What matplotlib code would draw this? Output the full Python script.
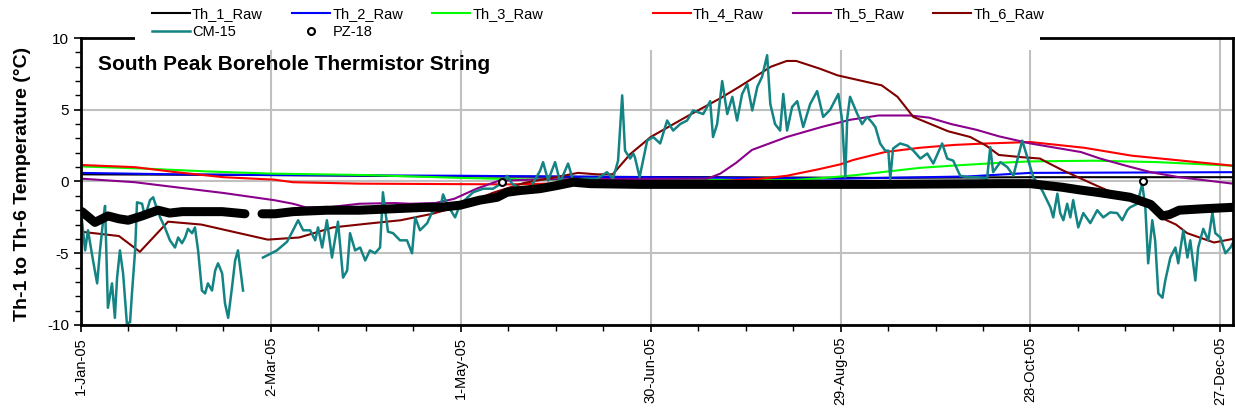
import matplotlib
matplotlib.use("Agg")
import matplotlib.pyplot as plt
import numpy as np
from matplotlib.patches import Rectangle

plt.rcParams['font.family'] = ['Liberation Sans', 'DejaVu Sans']
plt.rcParams['axes.unicode_minus'] = False

# days since 1-Jan-05
tick_days = [0, 60, 120, 180, 240, 300, 360]
tick_labels = ['1-Jan-05', '2-Mar-05', '1-May-05', '30-Jun-05', '29-Aug-05', '28-Oct-05', '27-Dec-05']

th1_day = [0, 60, 120, 200, 250, 300, 364]
th1_temp = [0.5, 0.45, 0.35, 0.3, 0.25, 0.3, 0.3]

th2_day = [0, 30, 60, 120, 180, 240, 280, 300, 364]
th2_temp = [0.6, 0.5, 0.45, 0.4, 0.3, 0.2, 0.35, 0.6, 0.65]

th3_day = [0, 20, 40, 60, 90, 120, 140, 180, 225, 235, 245, 255, 265, 275, 290, 300, 320, 340, 364]
th3_temp = [1.05, 0.9, 0.7, 0.55, 0.45, 0.25, 0.15, 0.1, 0.1, 0.25, 0.45, 0.7, 0.95, 1.1, 1.3, 1.4, 1.45, 1.35, 1.1]

th4_day = [0, 17, 30, 45, 61, 67, 88, 135, 160, 200, 215, 223, 233, 240, 244, 254, 265, 276, 286, 300, 317, 332, 348, 364]
th4_temp = [1.15, 1.0, 0.65, 0.3, 0.13, -0.05, -0.15, -0.2, -0.1, 0.0, 0.2, 0.4, 0.85, 1.2, 1.5, 2.05, 2.35, 2.55, 2.65, 2.75, 2.35, 1.8, 1.45, 1.1]

th5_day = [0, 17, 30, 45, 61, 67, 71, 78, 88, 99, 104, 112, 118, 125, 132, 145, 198, 202, 207, 212, 223,
           234, 243, 252, 262, 268, 275, 283, 290, 300, 316, 322, 331, 338, 347, 364]
th5_temp = [0.2, -0.05, -0.4, -0.8, -1.3, -1.55, -1.8, -1.8, -1.55, -1.5, -1.55, -1.5, -1.2, -0.5, 0.05, 0.15, 0.2, 0.55, 1.3, 2.2, 3.1,
            3.8, 4.3, 4.6, 4.6, 4.45, 4.0, 3.6, 3.15, 2.65, 2.05, 1.6, 1.05, 0.65, 0.3, -0.15]

th6_day = [0, 12, 18.6, 27.5, 38, 48, 59, 69, 79.6, 90, 101, 111, 120, 130, 140, 150, 157, 163, 168, 173.5, 180,
           192, 202, 208, 218, 223, 226, 233.6, 239, 253, 258, 263, 274, 281, 286, 290, 297, 303, 306, 310,
           315, 321, 331.5, 337, 342, 346, 349.5, 358, 364]
th6_temp = [-3.5, -3.8, -4.9, -2.8, -3.0, -3.5, -4.05, -3.9, -3.2, -2.95, -2.7, -2.25, -1.7, -0.8, -0.1, 0.3, 0.6, 0.5, 0.5, 1.9, 3.1,
            4.6, 5.8, 6.6, 8.0, 8.4, 8.4, 7.85, 7.4, 6.7, 5.9, 4.5, 3.5, 3.1, 2.5, 1.85, 1.7, 1.6, 1.25, 0.8,
            0.3, -0.3, -1.3, -1.7, -2.6, -3.0, -3.6, -4.25, -4.0]

cm15_day = [0.3, 1.3, 2.2, 3.8, 5.1, 6.0, 7.0, 7.6, 8.5, 9.8, 10.7, 11.4, 12.3, 13.3, 14.5, 15.5, 16.1, 17.1, 17.7,
            19.3, 20.2, 21.8, 22.8, 24.0, 25.0, 26.5, 28.1, 29.7, 30.7, 31.9, 32.9, 33.8, 35.1, 36.0, 37.0, 38.2,
            39.2, 40.1, 41.4, 42.4, 43.3, 44.6, 45.5, 46.5, 47.7, 48.7, 49.6, 50.9, 51.2, 54.0,
            57.5, 61.9, 65.1, 67.0, 68.6, 70.2, 72.4, 74.0, 74.9, 76.2, 77.7, 79.3, 81.2, 82.8, 84.1, 85.0, 86.6,
            88.2, 89.8, 91.3, 92.9, 94.5, 95.4, 97.0, 98.6, 100.8, 103.0, 104.6, 105.6, 107.1, 109.4, 111.2, 113.5,
            114.4, 115.7, 118.2, 119.8, 123.9, 127.1, 130.2, 133.4, 134.6, 136.2, 138.7, 141.9, 145.1, 146.0, 147.6,
            149.8, 151.4, 153.9, 155.5, 158.7, 163.1, 166.2, 168.1, 169.7, 171.0, 171.9, 173.5, 174.5, 175.0, 176.5,
            178.9, 180.8, 183.0, 185.2, 187.1, 189.3, 191.5, 193.4, 196.6, 198.8, 199.7, 201.0, 202.6, 204.2, 205.8,
            207.3, 208.9, 210.5, 212.1, 213.7, 215.2, 216.8, 217.8, 219.3, 220.9, 221.9, 223.1, 224.7, 226.3, 228.2,
            230.4, 232.6, 234.5, 236.7, 239.3, 240.5, 241.5, 242.1, 243.0, 245.3, 246.8, 248.4, 250.0, 251.0, 252.5,
            254.1, 255.1, 255.7, 256.6, 258.8, 261.1, 263.0, 265.2, 267.4, 269.3, 272.1, 273.7, 275.6, 277.8, 280.0,
            283.2, 286.3, 287.3, 288.2, 290.5, 292.7, 294.6, 297.4, 299.0, 300.9, 303.1, 304.0, 306.3, 307.2, 308.5,
            309.4, 310.4, 311.6, 312.6, 313.5, 315.1, 316.7, 318.9, 321.1, 323.0, 325.2, 327.4, 329.0, 330.6, 331.5,
            333.8, 335.3, 336.3, 337.2, 338.5, 339.4, 340.4, 341.7, 342.6, 344.2, 345.8, 346.7, 348.3, 349.6, 350.5,
            352.1, 353.0, 354.6, 356.2, 357.5, 358.4, 360.0, 361.6, 363.2, 364.4]
cm15_temp = [-2.7, -4.8, -3.4, -5.5, -7.1, -4.8, -2.7, -1.7, -8.8, -7.1, -9.5, -6.7, -4.8, -6.4, -9.9, -9.8, -7.8, -4.8, -1.45,
             -1.55, -2.5, -1.3, -1.1, -1.9, -2.5, -3.2, -4.1, -4.6, -3.9, -4.3, -3.9, -3.3, -3.6, -3.2, -4.8, -7.6,
             -7.8, -7.1, -7.6, -6.2, -5.7, -6.4, -8.5, -9.5, -7.4, -5.5, -4.8, -7.1, -7.6, np.nan,
             -5.3, -4.8, -4.2, -3.4, -2.7, -3.4, -3.4, -4.1, -3.2, -4.6, -2.7, -5.3, -2.8, -6.7, -6.2, -3.6, -4.8,
             -4.6, -5.5, -4.8, -5.0, -4.6, -0.75, -3.5, -3.6, -4.1, -4.1, -5.0, -2.5, -3.4, -2.9, -2.0, -1.9,
             -0.9, -1.6, -2.5, -1.6, -0.75, -0.5, -0.5, -0.05, 0.4, -0.15, -0.5, -0.5, 0.77, 1.35, 0.07,
             1.35, -0.05, 1.25, 0.07, 0.2, 0.2, 0.65, 0.2, 1.45, 6.0, 2.15, 1.6, 1.95, 1.7, 0.3,
             2.85, 3.1, 2.65, 4.25, 3.55, 4.0, 4.25, 4.95, 4.7, 5.6, 3.1, 4.0, 7.0, 4.7, 5.9,
             4.25, 6.1, 6.8, 4.95, 6.6, 7.3, 8.8, 5.4, 4.0, 3.55, 6.1, 3.55, 5.2, 5.6, 3.8,
             5.4, 6.3, 4.5, 5.0, 6.1, 4.25, 0.3, 4.4, 5.9, 4.7, 4.0, 4.5, 4.1, 3.8, 2.65,
             2.15, 2.15, 0.2, 2.3, 2.65, 2.5, 2.15, 1.6, 1.95, 1.25, 2.65, 1.6, 1.45, 0.4, 0.3,
             0.3, 0.2, 2.4, 0.65, 1.35, 1.0, 0.4, 2.85, 1.7, 0.3, -0.4, -0.75, -1.8, -2.5, -0.85,
             -2.2, -2.7, -1.55, -2.5, -1.3, -3.2, -2.2, -2.9, -2.0, -2.5, -2.15, -2.2, -2.7, -2.0, -1.8,
             -1.55, -0.15, -1.8, -5.7, -2.7, -4.1, -7.8, -8.1, -6.9, -5.3, -4.6, -5.7, -3.4, -5.3, -4.1,
             -6.9, -4.6, -3.3, -4.1, -2.15, -3.6, -3.9, -5.0, -4.6, -4.1]

pz18_day = [0.3, 4.4, 8.5, 12.0, 14.9, 19.3, 24.3, 28.0, 32.0, 38.0, 44.6, 51.8, 54.5, 57.2, 61.3, 67.0, 77.7, 88.0,
            98.6, 109.0, 113.5, 119.8, 126.0, 131.5, 134.6, 138.7, 145.0, 150.4, 155.5, 161.0, 176.7, 200.0,
            250.0, 290.0, 300.0, 310.0, 316.0, 321.0, 331.5, 338.0, 341.7, 344.0, 347.0, 354.6, 364.0]
pz18_temp = [-2.1, -2.85, -2.4, -2.6, -2.7, -2.4, -2.0, -2.2, -2.1, -2.1, -2.1, -2.25, np.nan, -2.25, -2.25, -2.1, -2.0, -2.0,
             -1.9, -1.8, -1.8, -1.65, -1.3, -1.1, -0.75, -0.63, -0.5, -0.28, -0.05, -0.15, -0.2, -0.2,
             -0.2, -0.15, -0.15, -0.4, -0.6, -0.75, -1.1, -1.6, -2.4, -2.3, -2.0, -1.9, -1.8]

# single open-circle readings standing apart from the band
pz18_out_day = [133.0, 335.7]
pz18_out_temp = [-0.05, 0.0]

fig = plt.figure(figsize=(12.35, 4.15), dpi=100)
ax = fig.add_axes([81 / 1235, 1 - 325 / 415, 1152 / 1235, 287 / 415])

th1, = ax.plot(th1_day, th1_temp, color='black', lw=1.5, label='Th_1_Raw')
th2, = ax.plot(th2_day, th2_temp, color='#0000ff', lw=1.5, label='Th_2_Raw')
th3, = ax.plot(th3_day, th3_temp, color='#00ff00', lw=1.5, label='Th_3_Raw')
th4, = ax.plot(th4_day, th4_temp, color='#ff0000', lw=1.5, label='Th_4_Raw')
th5, = ax.plot(th5_day, th5_temp, color='#8b008b', lw=1.5, label='Th_5_Raw')
th6, = ax.plot(th6_day, th6_temp, color='#800000', lw=1.5, label='Th_6_Raw')
cm, = ax.plot(cm15_day, cm15_temp, color='#138383', lw=1.8, label='CM-15')
ax.plot(pz18_day, pz18_temp, color='black', lw=6.5, solid_capstyle='round', label='_nolegend_')
pz, = ax.plot(pz18_out_day, pz18_out_temp, 'o', ms=5, mfc='white', mec='black', mew=1.5, label='PZ-18')

ax.set_xlim(0, 364)
ax.set_ylim(-10, 10)
ax.set_xticks(tick_days)
ax.set_xticklabels(tick_labels, rotation=90, fontsize=10.5)
ax.set_xticks(np.arange(0, 365, 15), minor=True)
ax.set_yticks([-10, -5, 0, 5, 10])
ax.set_yticks(np.arange(-10, 11, 1), minor=True)
ax.tick_params(axis='y', labelsize=11)
ax.tick_params(which='major', direction='out', length=5, width=1.2)
ax.tick_params(which='minor', direction='out', length=4, width=1)
ax.grid(True, which='major', color='#c0c0c0', lw=1.5)
ax.set_axisbelow(True)
for s in ax.spines.values():
    s.set_linewidth(2)

ax.set_ylabel('Th-1 to Th-6 Temperature (°C)', fontsize=14, fontweight='bold')
ax.yaxis.set_label_coords(-0.043, 0.49)
ax.text(0.015, 0.909, 'South Peak Borehole Thermistor String', transform=ax.transAxes,
        fontsize=15, fontweight='bold', va='center', ha='left')

# white legend box over the top edge, like the original
fig.patches.append(Rectangle((135 / 1235, 1 - 50 / 415), 905 / 1235, 50 / 415,
                             transform=fig.transFigure, facecolor='white', edgecolor='none', zorder=1))

leg_kw = dict(frameon=False, fontsize=10.5, handlelength=2.6, handletextpad=0.15,
              columnspacing=2.0, labelspacing=0.3, borderpad=0, borderaxespad=0)
fig.legend([th1, cm, th2, pz, th3], ['Th_1_Raw', 'CM-15', 'Th_2_Raw', 'PZ-18', 'Th_3_Raw'],
           ncol=3, loc='upper left', bbox_to_anchor=(152 / 1235, 1 - 7 / 415), **leg_kw)
fig.legend([th4, th5, th6], ['Th_4_Raw', 'Th_5_Raw', 'Th_6_Raw'],
           ncol=3, loc='upper left', bbox_to_anchor=(653 / 1235, 1 - 7 / 415), **leg_kw)

fig.savefig('out.png', dpi=100)
